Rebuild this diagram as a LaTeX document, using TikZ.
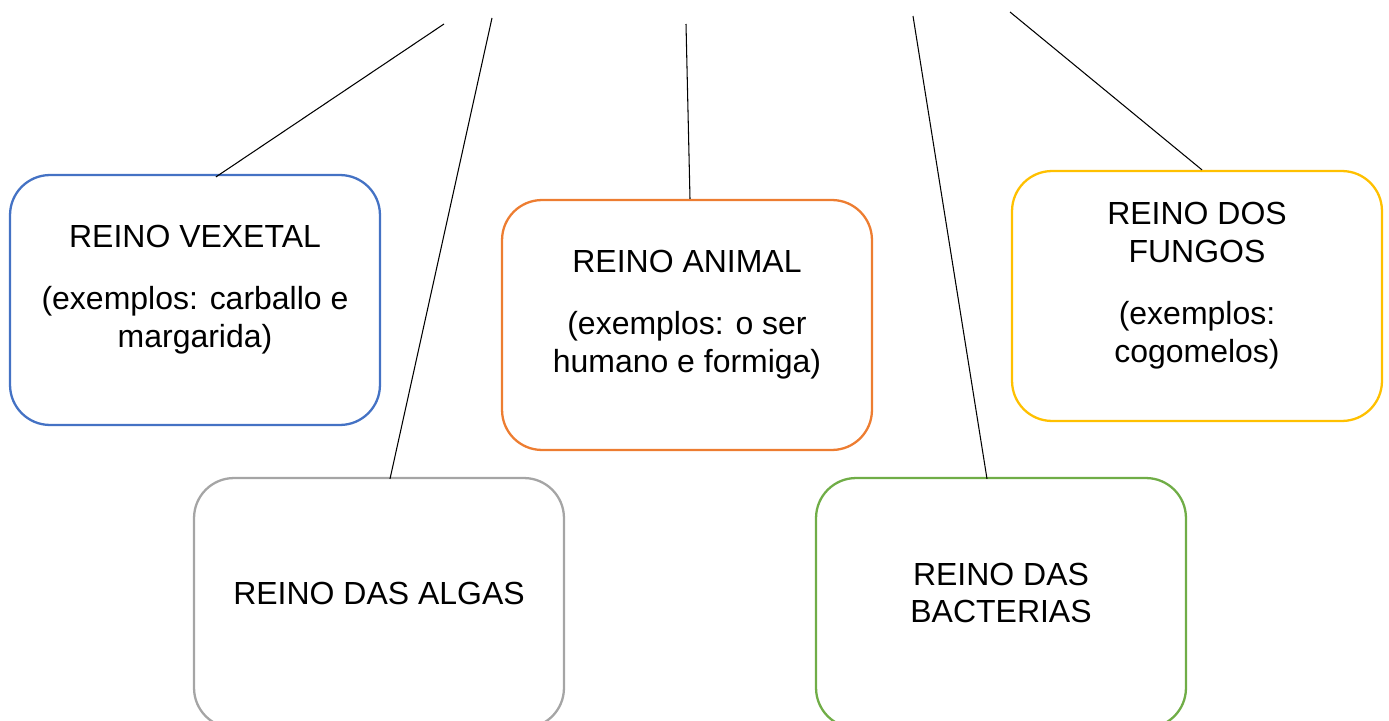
\documentclass[tikz,border=0pt]{standalone}
\usepackage{fontspec}
\setmainfont{Liberation Sans}
\usetikzlibrary{positioning}
\definecolor{azul}{HTML}{4472C4}
\definecolor{gris}{HTML}{A5A5A5}
\definecolor{laranxa}{HTML}{ED7D31}
\definecolor{verde}{HTML}{70AD47}
\definecolor{amarelo}{HTML}{FFC000}
\tikzset{every picture/.style={line width=0.6pt}}

\begin{document}
\begin{tikzpicture}[x=0.02cm, y=-0.02cm,
  texto/.style={align=center, font=\fontsize{18.2}{21.6}\selectfont, yshift=0.2cm},
  reino/.style={draw, rounded corners=0.8cm, line width=1.3pt, minimum width=7.4cm,
    minimum height=5cm, label={[texto]center:{#1}}}]
  \useasboundingbox (0,0) rectangle (1389,720);
  \node[reino={REINO VEXETAL\\[0.48cm](exemplos: carballo e\\margarida)}, draw=azul] (vexetal) at (195,300) {};
  \node[reino={REINO DAS ALGAS}, draw=gris] (algas) at (379,603) {};
  \node[reino={REINO ANIMAL\\[0.48cm](exemplos: o ser\\humano e formiga)}, draw=laranxa] (animal) at (687,325) {};
  \node[reino={REINO DAS\\BACTERIAS}, draw=verde] (bacterias) at (1001,603) {};
  \node[reino={REINO DOS\\FUNGOS\\[0.48cm](exemplos:\\cogomelos)}, draw=amarelo] (fungos) at (1197,296) {};
  % extremos soltos arriba
  \coordinate (topvexetal) at (444,24);
  \coordinate (topalgas) at (492,18);
  \coordinate (topanimal) at (686,24);
  \coordinate (topbacterias) at (913,16);
  \coordinate (topfungos) at (1010,12);
  \draw (topvexetal) -- ([xshift=0.42cm,yshift=-0.06cm]vexetal.north);
  \draw (topalgas) -- ([xshift=0.22cm,yshift=-0.04cm]algas.north);
  \draw (topanimal) -- ([xshift=0.06cm]animal.north);
  \draw (topbacterias) -- ([xshift=-0.28cm,yshift=-0.04cm]bacterias.north);
  \draw (topfungos) -- ([xshift=0.1cm]fungos.north);
\end{tikzpicture}
\end{document}
